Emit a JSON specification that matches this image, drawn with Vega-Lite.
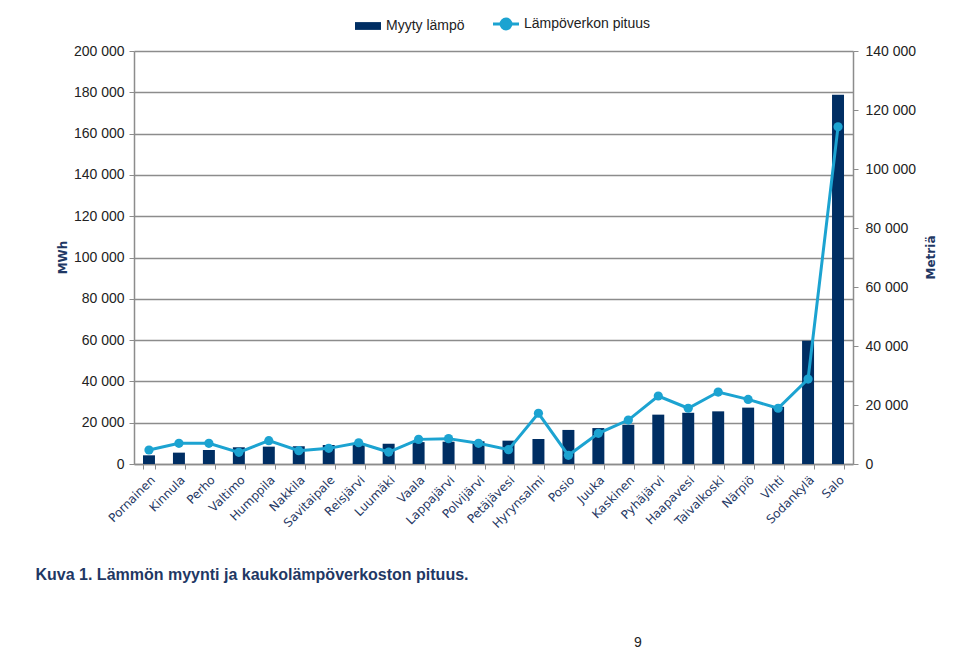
{
  "$schema": "https://vega.github.io/schema/vega-lite/v6.json",
  "width": 719,
  "height": 413,
  "autosize": "none",
  "padding": {"left": 134, "top": 51, "right": 107, "bottom": 186},
  "background": "white",
  "config": {
    "view": {"stroke": null},
    "font": "Liberation Sans"
  },
  "title": {
    "text": "9",
    "orient": "bottom",
    "anchor": "start",
    "frame": "group",
    "dx": 500,
    "offset": 54,
    "font": "Liberation Sans",
    "fontSize": 14,
    "fontWeight": "normal",
    "color": "#222222"
  },
  "data": {
    "values": [
      {"town": "Pornainen", "mwh": 4200, "m": 4750},
      {"town": "Kinnula", "mwh": 5500, "m": 7000},
      {"town": "Perho", "mwh": 6800, "m": 7000},
      {"town": "Valtimo", "mwh": 8100, "m": 3950},
      {"town": "Humppila", "mwh": 8400, "m": 7900},
      {"town": "Nakkila", "mwh": 8600, "m": 4500},
      {"town": "Savitaipale", "mwh": 9200, "m": 5300},
      {"town": "Reisjärvi", "mwh": 10000, "m": 7200},
      {"town": "Luumäki", "mwh": 9800, "m": 4050},
      {"town": "Vaala", "mwh": 10600, "m": 8350},
      {"town": "Lappajärvi", "mwh": 10800, "m": 8600},
      {"town": "Polvijärvi", "mwh": 11000, "m": 7000},
      {"town": "Petäjävesi", "mwh": 11300, "m": 4850},
      {"town": "Hyrynsalmi", "mwh": 12100, "m": 17200},
      {"town": "Posio", "mwh": 16500, "m": 2950},
      {"town": "Juuka", "mwh": 17400, "m": 10400},
      {"town": "Kaskinen", "mwh": 19000, "m": 14900},
      {"town": "Pyhäjärvi", "mwh": 23900, "m": 23050},
      {"town": "Haapavesi", "mwh": 24800, "m": 18900},
      {"town": "Taivalkoski", "mwh": 25500, "m": 24400},
      {"town": "Närpiö", "mwh": 27300, "m": 21900},
      {"town": "Vihti", "mwh": 27700, "m": 18900},
      {"town": "Sodankylä", "mwh": 59700, "m": 28800},
      {"town": "Salo", "mwh": 178800, "m": 114300}
    ]
  },
  "encoding": {
    "x": {
      "field": "town",
      "type": "nominal",
      "sort": null,
      "scale": {"paddingInner": 0.6, "paddingOuter": 0.3},
      "axis": {
        "title": "Kuva 1. Lämmön myynti ja kaukolämpöverkoston pituus.",
        "titleFont": "Liberation Sans",
        "titleFontSize": 16,
        "titleFontWeight": "bold",
        "titleColor": "#1F3864",
        "titleX": -99,
        "titleY": 102,
        "titleAlign": "left",
        "titleBaseline": "top",
        "titleAnchor": "start",
        "labelAngle": -45,
        "labelAlign": "right",
        "labelBaseline": "top",
        "labelFont": "DejaVu Sans",
        "labelFontSize": 12,
        "labelColor": "#1F3864",
        "labelPadding": 5,
        "tickBand": "extent",
        "tickColor": "#8c8c8c",
        "tickSize": 5,
        "domainColor": "#8c8c8c",
        "domainWidth": 1.5,
        "grid": false
      }
    }
  },
  "layer": [
    {
      "mark": {"type": "bar"},
      "encoding": {
        "y": {
          "field": "mwh",
          "type": "quantitative",
          "scale": {"domain": [0, 200000], "nice": false},
          "axis": {
            "title": "MWh",
            "titleFont": "DejaVu Sans",
            "titleFontSize": 12,
            "titleFontWeight": "bold",
            "titleColor": "#1F3864",
            "titleX": -72,
            "titleY": 206,
            "titleAngle": -90,
            "titleAlign": "center",
            "titleBaseline": "middle",
            "values": [0, 20000, 40000, 60000, 80000, 100000, 120000, 140000, 160000, 180000, 200000],
            "labelExpr": "replace(format(datum.value, ','), ',', ' ')",
            "labelFont": "Liberation Sans",
            "labelFontSize": 14,
            "labelColor": "#222222",
            "labelPadding": 5,
            "tickColor": "#8c8c8c",
            "tickSize": 5,
            "domainColor": "#8c8c8c",
            "domainWidth": 1.5,
            "grid": true,
            "gridColor": "#8c8c8c",
            "gridWidth": 1.5
          }
        },
        "color": {
          "datum": "Myyty lämpö",
          "scale": {"domain": ["Myyty lämpö", "Lämpöverkon pituus"], "range": ["#002E63", "#1CA3D1"]},
          "legend": {
            "title": null,
            "orient": "none",
            "direction": "horizontal",
            "legendX": 227,
            "legendY": -34,
            "labelFont": "Liberation Sans",
            "labelFontSize": 14,
            "labelColor": "#222222",
            "labelOffset": 11,
            "columnPadding": 22,
            "symbolSize": 676,
            "symbolStrokeWidth": 3,
            "encode": {
              "symbols": {
                "update": {
                  "shape": {"signal": "datum.value === 'Myyty lämpö' ? 'M-1,-0.3H1V0.3H-1Z' : 'M-1,0H1M-0.38,0A0.38,0.38,0,1,0,0.38,0A0.38,0.38,0,1,0,-0.38,0'"},
                  "fill": {"scale": "color", "field": "value"},
                  "stroke": {"scale": "color", "field": "value"},
                  "strokeWidth": {"signal": "datum.value === 'Myyty lämpö' ? 0 : 3"},
                  "opacity": {"value": 1},
                  "fillOpacity": {"value": 1}
                }
              }
            }
          }
        }
      }
    },
    {
      "mark": {"type": "line", "strokeWidth": 3, "point": {"filled": true, "size": 85}},
      "encoding": {
        "y": {
          "field": "m",
          "type": "quantitative",
          "scale": {"domain": [0, 140000], "nice": false},
          "axis": {
            "orient": "right",
            "title": "Metriä",
            "titleFont": "DejaVu Sans",
            "titleFontSize": 12,
            "titleFontWeight": "bold",
            "titleColor": "#1F3864",
            "titleAngle": -90,
            "titleX": 77,
            "titleY": 206,
            "titleAlign": "center",
            "titleBaseline": "middle",
            "values": [0, 20000, 40000, 60000, 80000, 100000, 120000, 140000],
            "labelExpr": "replace(format(datum.value, ','), ',', ' ')",
            "labelFont": "Liberation Sans",
            "labelFontSize": 14,
            "labelColor": "#222222",
            "labelPadding": 7,
            "tickColor": "#8c8c8c",
            "tickSize": 5,
            "domainColor": "#8c8c8c",
            "domainWidth": 1.5,
            "grid": false
          }
        },
        "color": {"datum": "Lämpöverkon pituus"}
      }
    }
  ],
  "resolve": {"scale": {"y": "independent"}}
}
